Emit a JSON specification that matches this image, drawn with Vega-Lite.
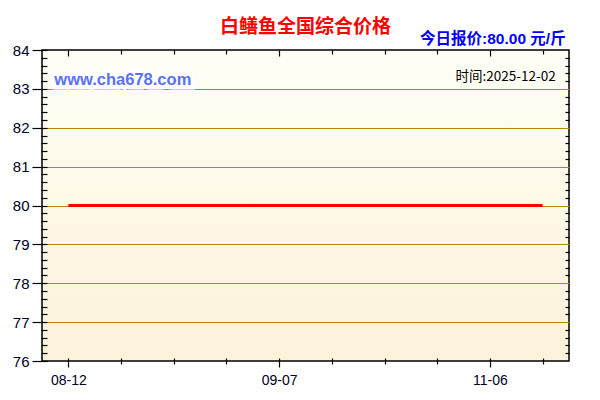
{
  "$schema": "https://vega.github.io/schema/vega-lite/v6.json",
  "description": "白鳝鱼全国综合价格 price line",
  "width": 527,
  "height": 311,
  "autosize": {"type": "none"},
  "padding": {"left": 42, "top": 50, "right": 31, "bottom": 39},
  "background": "#ffffff",
  "title": {
    "text": "白鳝鱼全国综合价格",
    "color": "#ff0000",
    "fontSize": 19,
    "fontWeight": "bold",
    "font": "Noto Sans CJK SC",
    "anchor": "middle",
    "frame": "group",
    "baseline": "bottom",
    "offset": -24
  },
  "config": {
    "view": {
      "stroke": "#000000",
      "strokeWidth": 1.5,
      "fill": {
        "gradient": "linear",
        "x1": 0, "y1": 0, "x2": 0, "y2": 1,
        "stops": [
          {"offset": 0, "color": "#fffff6"},
          {"offset": 1, "color": "#fdf2da"}
        ]
      }
    },
    "axis": {
      "labelFont": "Liberation Sans",
      "labelColor": "#000022",
      "tickColor": "#000000",
      "tickWidth": 1.2,
      "domain": false,
      "title": null
    }
  },
  "data": {
    "values": [
      {"date": "08-12", "price": 80},
      {"date": "08-18", "price": 80},
      {"date": "08-25", "price": 80},
      {"date": "09-01", "price": 80},
      {"date": "09-07", "price": 80},
      {"date": "09-22", "price": 80},
      {"date": "10-08", "price": 80},
      {"date": "10-23", "price": 80},
      {"date": "11-06", "price": 80},
      {"date": "11-21", "price": 80}
    ]
  },
  "resolve": {"axis": {"x": "independent", "y": "independent"}},
  "layer": [
    {
      "mark": {"type": "line", "color": "#ff0000", "strokeWidth": 3},
      "encoding": {
        "x": {
          "field": "date",
          "type": "ordinal",
          "scale": {"type": "point", "padding": 0.5},
          "axis": {
            "orient": "bottom",
            "offset": -3,
            "labelAngle": 0,
            "labelFontSize": 14,
            "labelPadding": 6,
            "labelExpr": "indexof(['08-12','09-07','11-06'], datum.label) >= 0 ? datum.label : ''",
            "tickSize": {"condition": {"test": "indexof(['08-12','09-07','11-06'], datum.value) >= 0", "value": 9}, "value": 6},
            "grid": false
          }
        },
        "y": {
          "field": "price",
          "type": "quantitative",
          "scale": {"domain": [76, 84], "nice": false, "zero": false},
          "axis": {
            "orient": "left",
            "offset": -5,
            "values": [76, 76.2, 76.4, 76.6, 76.8, 77, 77.2, 77.4, 77.6, 77.8, 78, 78.2, 78.4, 78.6, 78.8, 79, 79.2, 79.4, 79.6, 79.8, 80, 80.2, 80.4, 80.6, 80.8, 81, 81.2, 81.4, 81.6, 81.8, 82, 82.2, 82.4, 82.6, 82.8, 83, 83.2, 83.4, 83.6, 83.8, 84],
            "labelExpr": "abs(datum.value - round(datum.value)) < 0.01 ? format(datum.value, 'd') : ''",
            "labelFontSize": 15,
            "labelPadding": 3,
            "tickSize": {"condition": {"test": "abs(datum.value - round(datum.value)) < 0.01", "value": 15}, "value": 6},
            "grid": true,
            "gridColor": "#b8860b",
            "gridWidth": 1,
            "gridOpacity": {"condition": {"test": "abs(datum.value - round(datum.value)) < 0.01 && datum.value > 76.5 && datum.value < 83.5", "value": 1}, "value": 0}
          }
        }
      }
    },
    {
      "mark": {"type": "line", "opacity": 0},
      "encoding": {
        "x": {
          "field": "date",
          "type": "ordinal",
          "axis": {
            "orient": "top",
            "labels": false,
            "tickSize": {"condition": {"test": "indexof(['08-12','09-07','11-06'], datum.value) >= 0", "value": -6}, "value": -4},
            "grid": false
          }
        },
        "y": {
          "field": "price",
          "type": "quantitative",
          "axis": {
            "orient": "right",
            "labels": false,
            "values": [76.2, 76.4, 76.6, 76.8, 77.2, 77.4, 77.6, 77.8, 78.2, 78.4, 78.6, 78.8, 79.2, 79.4, 79.6, 79.8, 80.2, 80.4, 80.6, 80.8, 81.2, 81.4, 81.6, 81.8, 82.2, 82.4, 82.6, 82.8, 83.2, 83.4, 83.6, 83.8],
            "tickSize": -4,
            "grid": false
          }
        }
      }
    },
    {
      "data": {"values": [{"label": "www.cha678.com"}]},
      "mark": {"type": "text", "align": "left", "baseline": "middle", "dx": -14, "font": "Liberation Sans", "fontSize": 16.5, "fontWeight": "bold", "color": "#ffffff", "stroke": "#ffffff", "strokeWidth": 9},
      "encoding": {
        "x": {"datum": "08-12", "axis": null},
        "y": {"datum": 83.24, "axis": null},
        "text": {"field": "label"}
      }
    },
    {
      "data": {"values": [{"label": "www.cha678.com"}]},
      "mark": {"type": "text", "align": "left", "baseline": "middle", "dx": -14, "font": "Liberation Sans", "fontSize": 16.5, "fontWeight": "bold", "color": "#5a72f2"},
      "encoding": {
        "x": {"datum": "08-12", "axis": null},
        "y": {"datum": 83.24, "axis": null},
        "text": {"field": "label"}
      }
    },
    {
      "data": {"values": [{"label": "时间:2025-12-02"}]},
      "mark": {"type": "text", "align": "right", "baseline": "middle", "dx": 13, "font": "Noto Sans CJK SC", "fontSize": 13.5, "color": "#000000"},
      "encoding": {
        "x": {"datum": "11-21", "axis": null},
        "y": {"datum": 83.3, "axis": null},
        "text": {"field": "label"}
      }
    },
    {
      "data": {"values": [{"label": "今日报价:80.00 元/斤"}]},
      "mark": {"type": "text", "align": "right", "baseline": "middle", "dx": 23, "font": "Liberation Sans, Noto Sans CJK SC", "fontSize": 15.5, "fontWeight": "bold", "color": "#0000ff"},
      "encoding": {
        "x": {"datum": "11-21", "axis": null},
        "y": {"datum": 84.28, "axis": null},
        "text": {"field": "label"}
      }
    }
  ]
}
